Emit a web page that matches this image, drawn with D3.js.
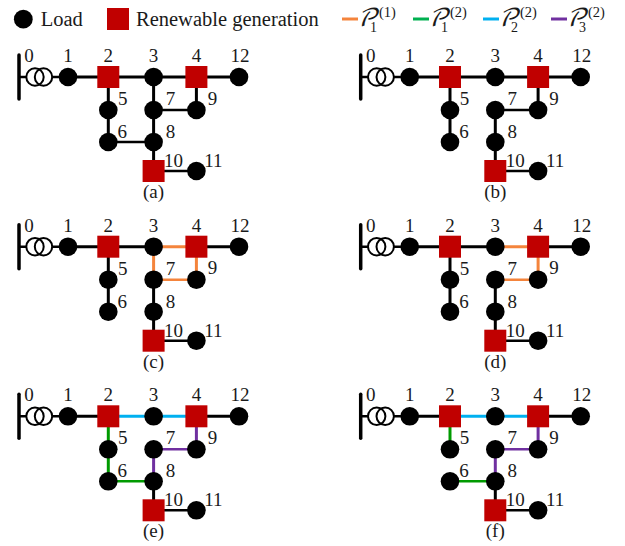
<!DOCTYPE html>
<html><head><meta charset="utf-8">
<script src="https://cdn.jsdelivr.net/npm/d3@7"></script>
<style>html,body{margin:0;padding:0;background:#fff}svg{display:block}text{font-family:"Liberation Serif",serif;fill:#1a1a1a}</style>
</head><body><svg id="c" width="625" height="546"></svg>
<script>
const nodeIds   = [1,2,3,4,12,5,6,7,9,8,10,11];
const nodeCols  = ["a","b","c","d","e","b","b","c","d","c","c","d"];
const nodeRows  = ["r0","r0","r0","r0","r0","r1","r2","r1","r1","r2","r3","r3"];
const renewable = [2,4,10];
const baseEdges = [[1,2],[2,3],[3,4],[4,12],[2,5],[5,6],[6,8],[3,7],[7,9],[4,9],[7,8],[8,10],[10,11]];
const thinEdges = [[6,8],[7,9],[10,11]];
const panelNames= ["(a)","(b)","(c)","(d)","(e)","(f)"];
const panelCols = ["left","right","left","right","left","right"];
const panelRows = ["top","top","mid","mid","low","low"];
const removed = [[],[[3,7],[6,8]],[[6,8]],[[3,7],[6,8]],[[3,7]],[[3,7],[5,6]]];
const seriesP11 = [[],[],[[3,4],[3,7],[7,9],[4,9]],[[3,4],[4,9],[7,9]],[],[]];
const seriesP12 = [[],[],[],[],[[2,5],[5,6],[6,8]],[[2,5],[6,8]]];
const seriesP22 = [[],[],[],[],[[2,3],[3,4]],[[2,3],[3,4]]];
const seriesP32 = [[],[],[],[],[[4,9],[7,9],[7,8]],[[4,9],[7,9],[7,8]]];
const legendSub = ["1","1","2","3"];
const legendSup = ["(1)","(2)","(2)","(2)"];
const legendCol = ["#F4843C","#00B050","#00B0F0","#7030A0"];
const panelGreen = "#009A00";
const RED="#C00000", INK="#000";

const x = d3.scaleOrdinal(["a","b","c","d","e"],[68,108.3,153.6,196.4,239]);
const y = d3.scaleOrdinal(["r0","r1","r2","r3"],[77,110,142,171]);
const px = d3.scaleOrdinal(["left","right"],[0,341.7]);
const py = d3.scaleOrdinal(["top","mid","low"],[0,169.7,339.3]);
const svg = d3.select("#c");
const key = (a,b)=>Math.min(a,b)+"-"+Math.max(a,b);
const pos = id=>{const i=nodeIds.indexOf(id);return [x(nodeCols[i]),y(nodeRows[i])];};
const labelOff = {1:[0,-15],2:[0,-15],3:[0,-15],4:[0,-15],12:[1,-15],5:[14.5,-5],6:[14,-4],7:[17,-5],9:[16,-5.5],8:[17,-4],10:[20,-4],11:[17,-4]};
const thin = new Set(thinEdges.map(e=>key(e[0],e[1])));

// legend
svg.append("circle").attr("cx",23.3).attr("cy",19.2).attr("r",9.4).attr("fill",INK);
svg.append("text").attr("x",40.7).attr("y",26).attr("font-size",20.5).text("Load");
svg.append("rect").attr("x",107).attr("y",8).attr("width",22).attr("height",22).attr("fill",RED);
svg.append("text").attr("x",136).attr("y",26).attr("font-size",20.5).text("Renewable generation");
const legendX = d3.scaleOrdinal([0,1,2,3],[342,413,483,551]);
legendSub.forEach((s,i)=>{
  const g=svg.append("g").attr("transform",`translate(${legendX(i)},0)`);
  g.append("line").attr("x1",0).attr("x2",16).attr("y1",19).attr("y2",19).attr("stroke",legendCol[i]).attr("stroke-width",3);
  g.append("text").attr("x",15).attr("y",26).attr("font-size",24).style("font-family",'"DejaVu Math TeX Gyre","Liberation Serif",serif').style("font-style","italic").attr("fill","#333").text("\u{1D4AB}");
  g.append("text").attr("x",28).attr("y",32).attr("font-size",14).text(s);
  g.append("text").attr("x",37).attr("y",17).attr("font-size",14.5).text(legendSup[i]);
});

panelNames.forEach((name,p)=>{
  const g=svg.append("g").attr("transform",`translate(${px(panelCols[p])},${py(panelRows[p])})`);
  const rm=new Set(removed[p].map(e=>key(e[0],e[1])));
  const col=new Map();
  seriesP11[p].forEach(e=>col.set(key(e[0],e[1]),legendCol[0]));
  seriesP12[p].forEach(e=>col.set(key(e[0],e[1]),panelGreen));
  seriesP22[p].forEach(e=>col.set(key(e[0],e[1]),legendCol[2]));
  seriesP32[p].forEach(e=>col.set(key(e[0],e[1]),legendCol[3]));
  // bus and transformer
  g.append("line").attr("x1",19).attr("x2",19).attr("y1",55).attr("y2",99).attr("stroke",INK).attr("stroke-width",3.5).attr("stroke-linecap","round");
  g.append("line").attr("x1",19).attr("x2",68).attr("y1",77).attr("y2",77).attr("stroke",INK).attr("stroke-width",2.6);
  [35,43.5].forEach(cx=>g.append("circle").attr("cx",cx).attr("cy",77).attr("r",8.7).attr("fill","#fff"));
  [35,43.5].forEach(cx=>g.append("circle").attr("cx",cx).attr("cy",77).attr("r",8.7).attr("fill","none").attr("stroke",INK).attr("stroke-width",2));
  g.selectAll(".e").data(baseEdges.filter(e=>!rm.has(key(e[0],e[1])))).enter().append("line")
    .attr("x1",e=>pos(e[0])[0]).attr("y1",e=>pos(e[0])[1]).attr("x2",e=>pos(e[1])[0]).attr("y2",e=>pos(e[1])[1])
    .attr("stroke",e=>col.get(key(e[0],e[1]))||INK).attr("stroke-width",e=>thin.has(key(e[0],e[1]))?2.4:3);
  nodeIds.forEach(id=>{
    const [cx,cy]=pos(id);
    if(renewable.includes(id)) g.append("rect").attr("x",cx-11).attr("y",cy-11).attr("width",22).attr("height",22).attr("fill",RED);
    else g.append("circle").attr("cx",cx).attr("cy",cy).attr("r",9.3).attr("fill",INK);
    const o=labelOff[id];
    g.append("text").attr("x",cx+o[0]).attr("y",cy+o[1]).attr("text-anchor","middle").attr("font-size",19).text(id);
  });
  g.append("text").attr("x",29).attr("y",62).attr("text-anchor","middle").attr("font-size",19).text(0);
  g.append("text").attr("x",153.6).attr("y",198).attr("text-anchor","middle").attr("font-size",19).text(name);
});
</script></body></html>
